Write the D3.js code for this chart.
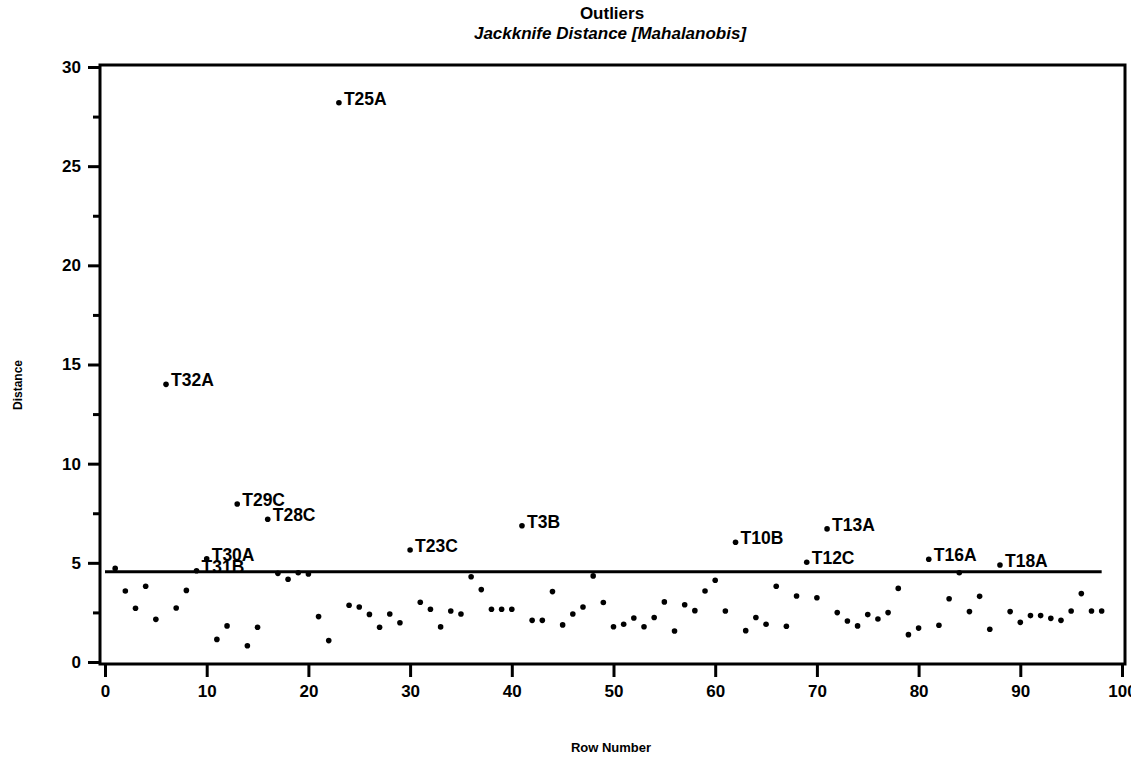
<!DOCTYPE html>
<html lang="en">
<head>
  <meta charset="UTF-8">
  <title>Outliers - Jackknife Distance</title>
  <script src="https://d3js.org/d3.v7.min.js"></script>
  <style>
    body { margin: 0; background: #fff; }
    svg { display: block; font-family: "Liberation Sans", Arial, sans-serif; }
  </style>
</head>
<body>
  <svg id="chart" width="1143" height="764"></svg>
  <script>
    // distance per row number (1..98)
    const rows = d3.range(1, 99);
    const distance = [
      4.72, 3.58, 2.71, 3.82, 2.15, 14.0, 2.72, 3.61, 4.6, 5.2,
      1.14, 1.82, 7.97, 0.82, 1.75, 7.2, 4.47, 4.17, 4.5, 4.44,
      2.29, 1.08, 28.2, 2.86, 2.77, 2.40, 1.75, 2.42, 1.98, 5.65,
      3.01, 2.66, 1.77, 2.57, 2.42, 4.30, 3.65, 2.66, 2.66, 2.66,
      6.87, 2.10, 2.10, 3.55, 1.87, 2.42, 2.77, 4.34, 3.0, 1.78,
      1.90, 2.22, 1.78, 2.24, 3.03, 1.56, 2.89, 2.59, 3.58, 4.12,
      2.57, 6.04, 1.58, 2.24, 1.90, 3.82, 1.80, 3.33, 5.03, 3.24,
      6.71, 2.49, 2.07, 1.82, 2.39, 2.17, 2.49, 3.71, 1.38, 1.71,
      5.18, 1.85, 3.19, 4.50, 2.54, 3.31, 1.65, 4.89, 2.54, 2.0,
      2.34, 2.34, 2.20, 2.10, 2.57, 3.45, 2.57, 2.57
    ];
    // labelled outliers: row -> label
    const outlierRows = [6, 9, 10, 13, 16, 23, 30, 41, 62, 69, 71, 81, 88];
    const outlierNames = ["T32A", "T31B", "T30A", "T29C", "T28C", "T25A", "T23C",
                          "T3B", "T10B", "T12C", "T13A", "T16A", "T18A"];
    const cutoff = 4.55;
    const cutoffRange = [0, 98];
    const xTicks = d3.range(0, 101, 10);
    const yTicks = d3.range(0, 31, 5);
    const yMinor = d3.range(2.5, 30, 5);

    const svg = d3.select("#chart");
    const frame = { left: 100, right: 1125, top: 65, bottom: 664 };

    const x = d3.scaleLinear().domain([0, 100]).range([105, 1122]);
    const y = d3.scaleLinear().domain([0, 30]).range([662, 67]);

    // titles
    svg.append("text")
      .attr("x", 612).attr("y", 19)
      .attr("text-anchor", "middle")
      .attr("font-size", 17).attr("font-weight", "bold")
      .text("Outliers");
    svg.append("text")
      .attr("x", 610).attr("y", 39)
      .attr("text-anchor", "middle")
      .attr("font-size", 17).attr("font-weight", "bold").attr("font-style", "italic")
      .text("Jackknife Distance [Mahalanobis]");

    // frame
    svg.append("rect")
      .attr("x", frame.left).attr("y", frame.top)
      .attr("width", frame.right - frame.left)
      .attr("height", frame.bottom - frame.top)
      .attr("fill", "none").attr("stroke", "#000").attr("stroke-width", 3);

    // y axis
    const yAxis = svg.append("g")
      .attr("transform", `translate(${frame.left},0)`)
      .call(d3.axisLeft(y).tickValues(yTicks).tickSize(12).tickPadding(7));
    yAxis.select(".domain").remove();
    yAxis.selectAll(".tick line").attr("stroke-width", 3);
    yAxis.selectAll(".tick text")
      .attr("font-size", 17).attr("font-weight", "bold")
      .attr("font-family", "Liberation Sans, Arial, sans-serif");
    const yMin = svg.append("g")
      .attr("transform", `translate(${frame.left},0)`)
      .call(d3.axisLeft(y).tickValues(yMinor).tickSize(7).tickFormat(""));
    yMin.select(".domain").remove();
    yMin.selectAll(".tick line").attr("stroke-width", 3);

    // x axis (last label is cut at the page edge in the source scan)
    svg.append("clipPath").attr("id", "xclip")
      .append("rect").attr("x", 0).attr("y", 0).attr("width", 1131).attr("height", 764);
    const xAxis = svg.append("g")
      .attr("transform", `translate(0,${frame.bottom})`)
      .attr("clip-path", "url(#xclip)")
      .call(d3.axisBottom(x).tickValues(xTicks).tickSize(13).tickPadding(8));
    xAxis.select(".domain").remove();
    xAxis.selectAll(".tick line").attr("stroke-width", 3);
    xAxis.selectAll(".tick text")
      .attr("font-size", 17).attr("font-weight", "bold")
      .attr("font-family", "Liberation Sans, Arial, sans-serif");

    // axis titles
    svg.append("text")
      .attr("transform", "translate(22,385) rotate(-90)")
      .attr("text-anchor", "middle")
      .attr("font-size", 12).attr("font-weight", "bold")
      .text("Distance");
    svg.append("text")
      .attr("x", 611).attr("y", 752)
      .attr("text-anchor", "middle")
      .attr("font-size", 13).attr("font-weight", "bold")
      .text("Row Number");

    // cutoff line
    svg.append("line")
      .attr("x1", x(cutoffRange[0])).attr("x2", x(cutoffRange[1]))
      .attr("y1", y(cutoff)).attr("y2", y(cutoff))
      .attr("stroke", "#000").attr("stroke-width", 3);

    // points
    svg.append("g").selectAll("circle")
      .data(rows)
      .join("circle")
      .attr("cx", d => x(d))
      .attr("cy", (d, i) => y(distance[i]))
      .attr("r", 2.8)
      .attr("fill", "#000");

    // outlier labels
    svg.append("g").selectAll("text")
      .data(outlierRows)
      .join("text")
      .attr("x", d => x(d) + 5)
      .attr("y", d => y(distance[d - 1]) + 2)
      .attr("font-size", 17.5).attr("font-weight", "bold")
      .text((d, i) => outlierNames[i]);
  </script>
</body>
</html>
